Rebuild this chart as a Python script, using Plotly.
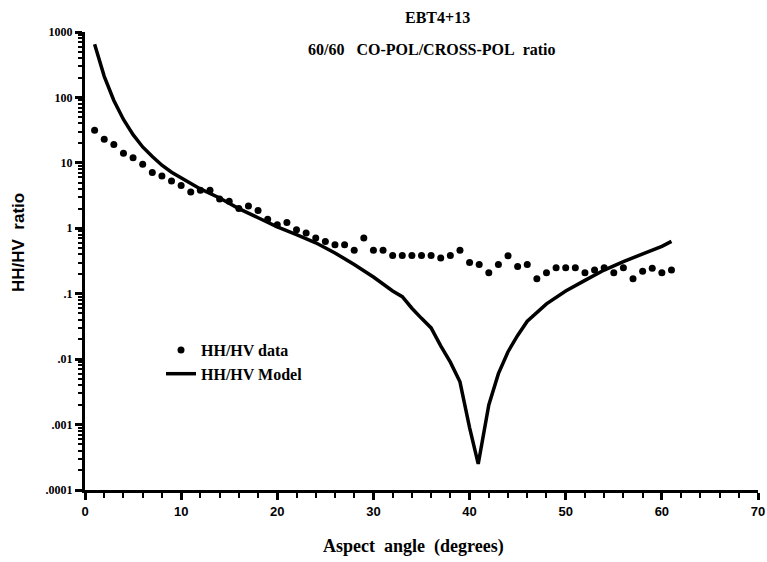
import plotly.graph_objects as go

# HH/HV data points (aspect angle in degrees, ratio)
data_angle = list(range(1, 62))
data_ratio = [31.6, 23, 19, 14, 12, 9.5, 7.1, 6.3, 5.3, 4.5,
              3.6, 3.8, 3.8, 2.8, 2.6, 2.0, 2.2, 1.87, 1.38, 1.13,
              1.23, 0.95, 0.85, 0.71, 0.63, 0.56, 0.56, 0.46, 0.71, 0.46,
              0.46, 0.385, 0.385, 0.385, 0.385, 0.385, 0.35, 0.385, 0.46, 0.30,
              0.28, 0.21, 0.28, 0.38, 0.26, 0.28, 0.17, 0.21, 0.25, 0.25,
              0.25, 0.21, 0.23, 0.25, 0.21, 0.25, 0.17, 0.22, 0.245, 0.21,
              0.23]

# HH/HV model curve
model_angle = [1, 2, 3, 4, 5, 6, 7, 8, 9, 10, 12, 14, 16, 18, 20, 22, 24, 26, 28, 30,
               32, 33, 34, 35, 36, 37, 38, 39, 40, 40.9, 42, 43, 44, 45, 46, 48, 50,
               52, 54, 56, 58, 60, 61]
model_ratio = [650, 210, 90, 46, 27, 17.5, 12.5, 9.2, 7.2, 5.9, 4.0, 2.9, 2.0, 1.45, 1.05,
               0.8, 0.6, 0.42, 0.28, 0.18, 0.11, 0.09, 0.06, 0.042, 0.03, 0.016, 0.009,
               0.0045, 0.0009, 0.00025, 0.002, 0.006, 0.013, 0.023, 0.038, 0.07, 0.11,
               0.16, 0.23, 0.31, 0.40, 0.53, 0.63]

x_ticks = [0, 10, 20, 30, 40, 50, 60, 70]
y_tickvals = [1e-4, 1e-3, 1e-2, 1e-1, 1, 10, 100, 1000]
y_ticktext = [".0001", ".001", ".01", ".1", "1", "10", "100", "1000"]

serif = "Liberation Serif"
W, H = 767, 562
L, R, T, B = 85, 9, 32, 72
pw, ph = W - L - R, H - T - B


def px(xs):
    return (xs - L) / pw


def py(ys):
    return (H - B - ys) / ph


fig = go.Figure()
fig.add_trace(go.Scatter(x=data_angle, y=data_ratio, mode="markers",
                         marker=dict(color="black", size=7),
                         name="HH/HV data"))
fig.add_trace(go.Scatter(x=model_angle, y=model_ratio, mode="lines",
                         line=dict(color="black", width=3.5),
                         name="HH/HV Model"))

ann = dict(xref="paper", yref="paper", showarrow=False,
           xanchor="center", yanchor="middle")

fig.update_layout(
    width=W, height=H,
    margin=dict(l=L, r=R, t=T, b=B, autoexpand=False),
    paper_bgcolor="white", plot_bgcolor="white",
    font=dict(family=serif, color="black", size=14),
    showlegend=True,
    legend=dict(x=px(161), y=py(333), xanchor="left", yanchor="top",
                bgcolor="rgba(0,0,0,0)",
                font=dict(family=serif, size=16, color="black", weight="bold"),
                tracegroupgap=2),
    annotations=[
        dict(ann, text="<b>EBT4+13</b>", x=px(437), y=py(17),
             font=dict(family=serif, size=16)),
        dict(ann, text="<b>60/60&nbsp;&nbsp;&nbsp;CO-POL/CROSS-POL&nbsp;&nbsp;ratio</b>",
             x=px(432), y=py(49), font=dict(family=serif, size=16)),
        dict(ann, text="<b>Aspect&nbsp;&nbsp;angle&nbsp;&nbsp;(degrees)</b>",
             x=px(413), y=py(546), font=dict(family=serif, size=18)),
        dict(ann, text="<b>HH/HV&nbsp;&nbsp;ratio</b>", textangle=-90,
             x=px(18), y=py(243), font=dict(family="Liberation Sans", size=17)),
    ],
)

fig.update_xaxes(
    range=[0, 70], tickvals=x_ticks, ticktext=[str(v) for v in x_ticks],
    automargin=False,
    showline=True, linecolor="black", linewidth=3, mirror=False,
    ticks="outside", ticklen=7, tickwidth=2.5, tickcolor="black",
    minor=dict(dtick=2, ticks="outside", ticklen=5, tickwidth=2, tickcolor="black"),
    showgrid=False, zeroline=False,
    tickfont=dict(family="Liberation Sans", size=13, weight="bold"),
)
fig.update_yaxes(
    type="log", range=[-4, 3], tickvals=y_tickvals, ticktext=y_ticktext,
    automargin=False,
    showline=True, linecolor="black", linewidth=3,
    ticks="outside", ticklen=7, tickwidth=2.5, tickcolor="black",
    minor=dict(dtick="D1", ticks="outside", ticklen=4, tickwidth=2, tickcolor="black"),
    showgrid=False, zeroline=False,
    tickfont=dict(family=serif, size=12, weight="bold"),
)

fig.write_html("out.html",
               config={"displayModeBar": False},
               post_script="document.body.style.margin='0';"
                           "document.body.style.overflow='hidden';")
